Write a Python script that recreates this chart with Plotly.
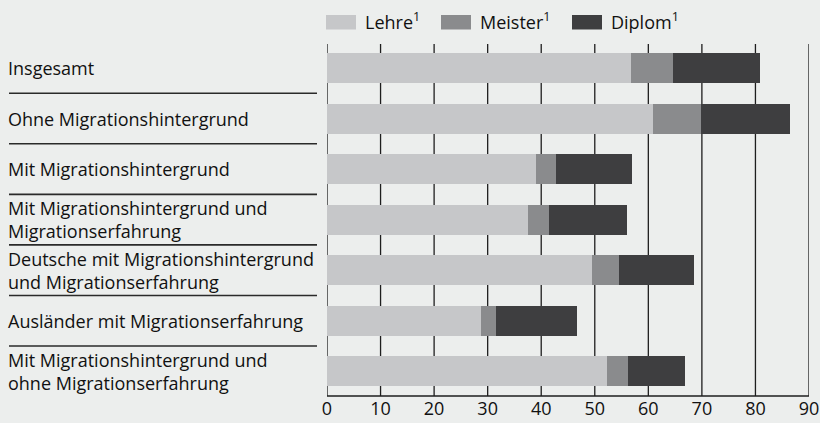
import plotly.graph_objects as go

categories = [
    "Insgesamt",
    "Ohne Migrationshintergrund",
    "Mit Migrationshintergrund",
    "Mit Migrationshintergrund und<br>Migrationserfahrung",
    "Deutsche mit Migrationshintergrund<br>und Migrationserfahrung",
    "Ausländer mit Migrationserfahrung",
    "Mit Migrationshintergrund und<br>ohne Migrationserfahrung",
]
lehre = [56.7, 60.8, 39.0, 37.5, 49.4, 28.7, 52.2]
meister = [7.9, 9.0, 3.7, 3.9, 5.1, 2.8, 4.0]
diplom = [16.2, 16.6, 14.2, 14.6, 14.0, 15.1, 10.6]
series_names = ["Lehre<sup>1</sup>", "Meister<sup>1</sup>", "Diplom<sup>1</sup>"]
colors = ["#C6C7C9", "#8A8B8D", "#3E3E40"]
x_ticks = [0, 10, 20, 30, 40, 50, 60, 70, 80, 90]

BG = "#ECEEED"
FONT = "Open Sans"
W, H = 820, 423
ML, MR, MT, MB = 327, 11, 44, 27
PW = W - ML - MR
PH = H - MT - MB

ypos = list(range(len(categories)))

fig = go.Figure()
for name, vals, col in zip(series_names, [lehre, meister, diplom], colors):
    fig.add_trace(go.Bar(
        y=ypos, x=vals, name=name, orientation="h",
        marker=dict(color=col, line=dict(width=0)),
        width=0.594, showlegend=False,
    ))

def px_to_paper_x(px):
    return (px - ML) / PW

def px_to_paper_y(py):
    return 1 - (py - MT) / PH

shapes = []
for t in x_ticks:
    shapes.append(dict(type="line", xref="x", yref="paper", x0=t, x1=t, y0=0, y1=1,
                       line=dict(color="#1E1E1E", width=1.3), layer="below"))
for i in range(len(categories) - 1):
    shapes.append(dict(type="line", xref="paper", yref="y",
                       x0=px_to_paper_x(9), x1=px_to_paper_x(317), y0=i + 0.5, y1=i + 0.5,
                       line=dict(color="#2A2A2A", width=1.6)))
shapes.append(dict(type="line", xref="paper", yref="paper", x0=0, x1=1, y0=0, y1=0,
                   line=dict(color="#1E1E1E", width=1.5)))

annotations = []
for i, c in enumerate(categories):
    annotations.append(dict(
        x=px_to_paper_x(6), y=i, xref="paper", yref="y", text=c, showarrow=False,
        xanchor="left", yanchor="middle", align="left",
        font=dict(family=FONT, size=18, color="#111111"),
    ))

legend_x = [326, 441, 572]
for lx, name, col in zip(legend_x, series_names, colors):
    shapes.append(dict(type="rect", xref="paper", yref="paper",
                       x0=px_to_paper_x(lx), x1=px_to_paper_x(lx + 30),
                       y0=px_to_paper_y(29.5), y1=px_to_paper_y(15),
                       fillcolor=col, line=dict(width=0)))
    annotations.append(dict(
        x=px_to_paper_x(lx + 37), y=px_to_paper_y(21), xref="paper", yref="paper",
        text=name, showarrow=False, xanchor="left", yanchor="middle",
        font=dict(family=FONT, size=18, color="#111111"),
    ))

fig.update_layout(
    barmode="stack",
    width=W, height=H,
    margin=dict(l=ML, r=MR, t=MT, b=MB, autoexpand=False),
    paper_bgcolor=BG, plot_bgcolor=BG,
    shapes=shapes, annotations=annotations,
    xaxis=dict(range=[0, 90], tickvals=x_ticks, showgrid=False, zeroline=False,
               showline=False, ticks="", tickfont=dict(family=FONT, size=18, color="#111111"),
               fixedrange=True, automargin=False),
    yaxis=dict(range=[6.49, -0.475], showticklabels=False, showgrid=False,
               zeroline=False, showline=False, ticks="", fixedrange=True, automargin=False),
    bargap=0,
)

fig.write_html(
    "out.html",
    config={"displayModeBar": False},
    post_script="document.body.style.margin='0';document.body.style.overflow='hidden';"
                "document.body.style.background='" + BG + "';",
)
